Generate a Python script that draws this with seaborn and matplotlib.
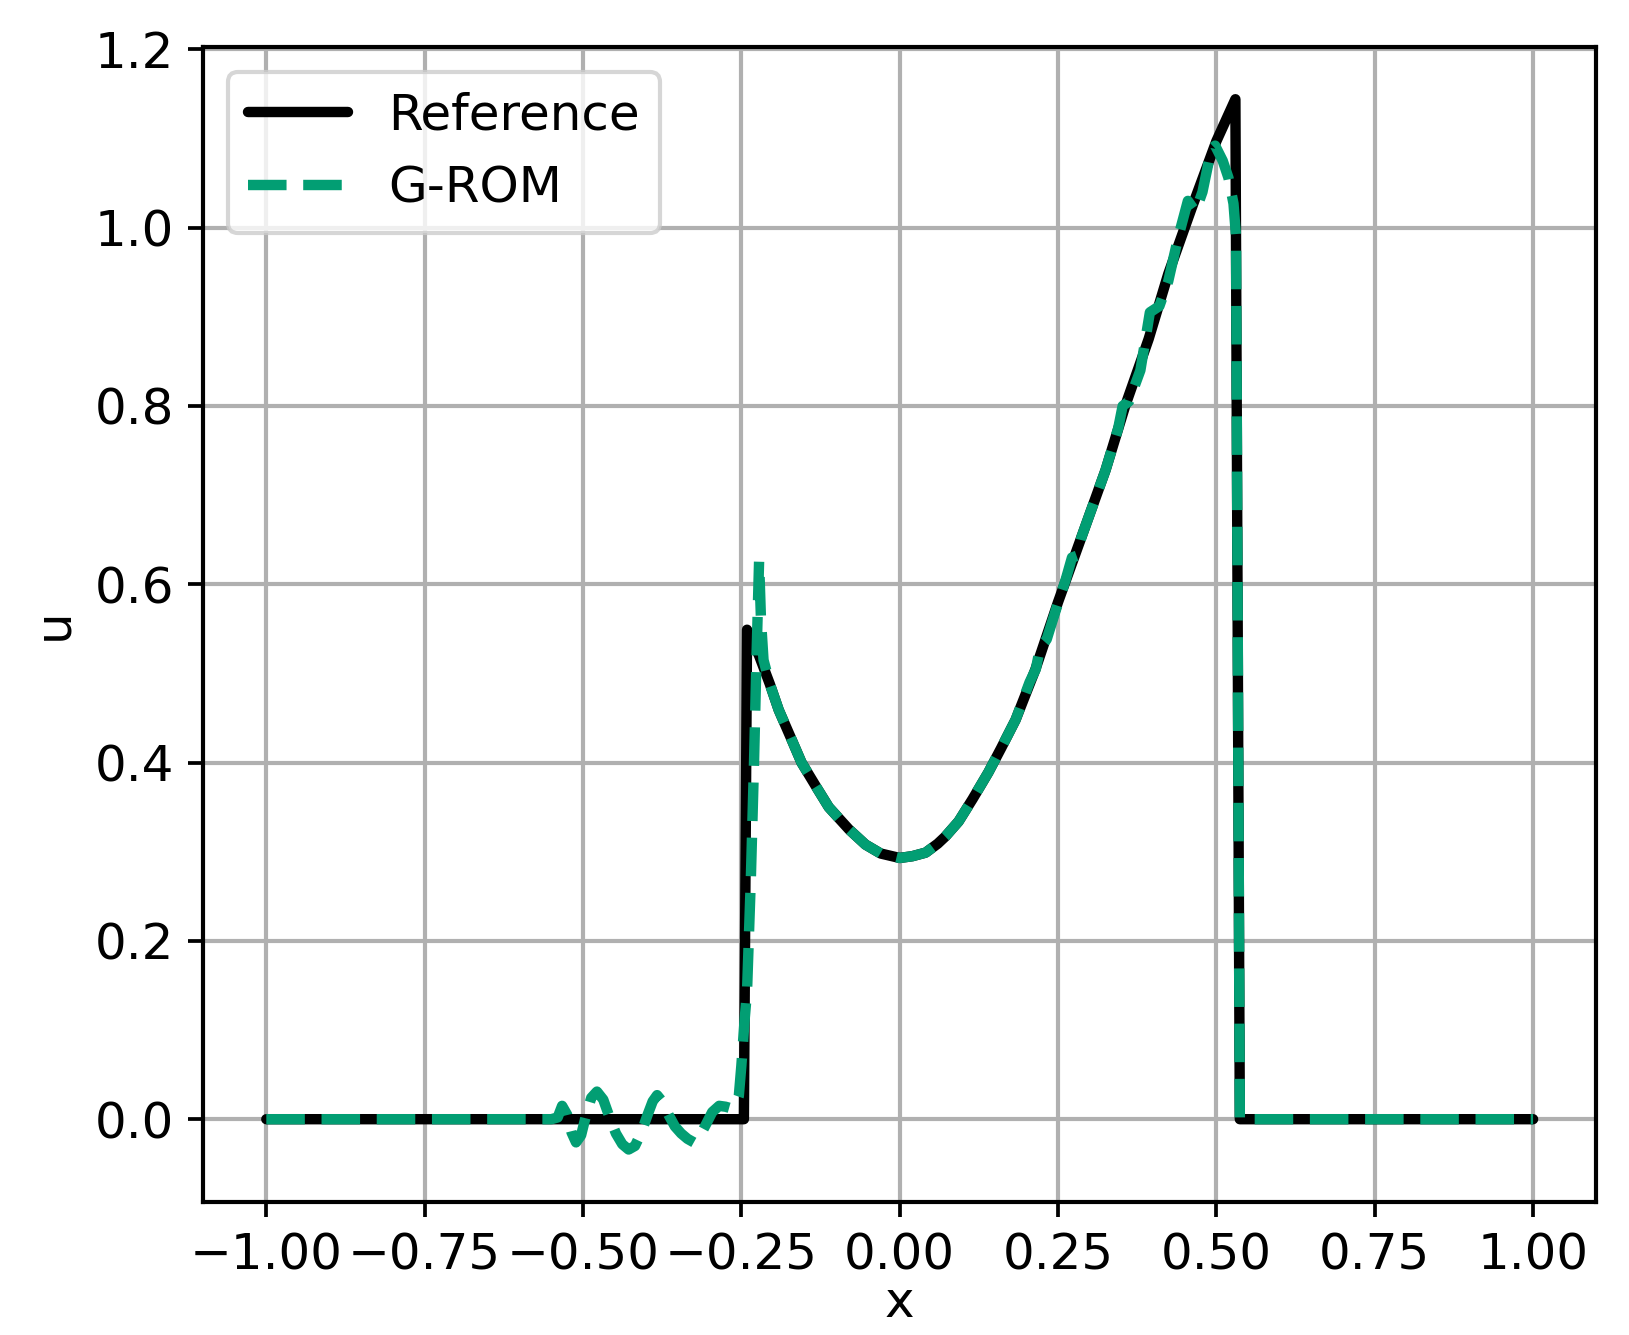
import numpy as np
import pandas as pd
import seaborn as sns
import matplotlib
matplotlib.use("Agg")
import matplotlib.pyplot as plt

# reference solution
x_ref = [-1.0, -0.246, -0.241, -0.222, -0.205, -0.191, -0.172, -0.155, -0.132, -0.112,
         -0.080, -0.054, -0.030, 0.0, 0.020, 0.041, 0.060, 0.072, 0.093, 0.115, 0.140,
         0.160, 0.183, 0.214, 0.250, 0.287, 0.325, 0.356, 0.393, 0.424, 0.461, 0.500,
         0.530, 0.537, 1.0]
y_ref = [0.0, 0.0, 0.549, 0.520, 0.488, 0.459, 0.428, 0.400, 0.373, 0.350,
         0.325, 0.308, 0.298, 0.293, 0.295, 0.299, 0.309, 0.317, 0.334, 0.359, 0.389,
         0.416, 0.448, 0.504, 0.580, 0.653, 0.728, 0.800, 0.875, 0.948, 1.022, 1.097,
         1.144, 0.0, 0.0]

# G-ROM approximation
x_grom = [-1.0, -0.550, -0.540, -0.533, -0.525, -0.518, -0.511, -0.503, -0.495, -0.487,
          -0.478, -0.468, -0.458, -0.448, -0.438, -0.428, -0.418, -0.408, -0.398, -0.390,
          -0.383, -0.375, -0.365, -0.355, -0.345, -0.335, -0.325, -0.315, -0.306, -0.296,
          -0.285, -0.275, -0.265, -0.258, -0.254, -0.250, -0.245, -0.241, -0.235, -0.230,
          -0.226, -0.222, -0.219, -0.215, -0.205, -0.191, -0.172, -0.155, -0.132, -0.112,
          -0.080, -0.054, -0.030, 0.0, 0.020, 0.041, 0.060, 0.072, 0.093, 0.115, 0.140,
          0.160, 0.183, 0.205, 0.215, 0.222, 0.232, 0.246, 0.262, 0.272, 0.280, 0.287,
          0.325, 0.345, 0.352, 0.362, 0.380, 0.395, 0.410, 0.424, 0.440, 0.455, 0.467,
          0.478, 0.492, 0.498, 0.510, 0.519, 0.527, 0.531, 0.534, 0.537, 1.0]
y_grom = [0.0, 0.0, 0.002, 0.015, 0.005, -0.015, -0.026, -0.018, 0.005, 0.024,
          0.031, 0.022, 0.002, -0.016, -0.028, -0.034, -0.030, -0.015, 0.005, 0.020,
          0.027, 0.020, 0.005, -0.008, -0.016, -0.022, -0.026, -0.018, -0.006, 0.008,
          0.015, 0.014, 0.012, 0.018, 0.026, 0.060, 0.110, 0.144, 0.270, 0.400,
          0.520, 0.626, 0.560, 0.515, 0.488, 0.459, 0.428, 0.400, 0.373, 0.350,
          0.325, 0.308, 0.298, 0.293, 0.295, 0.299, 0.309, 0.317, 0.334, 0.359, 0.389,
          0.416, 0.448, 0.490, 0.505, 0.530, 0.538, 0.570, 0.605, 0.630, 0.632, 0.653,
          0.728, 0.775, 0.800, 0.805, 0.840, 0.905, 0.912, 0.940, 0.990, 1.030, 1.018,
          1.040, 1.088, 1.092, 1.075, 1.056, 1.027, 0.990, 0.500, 0.0, 0.0]

sns.set_style("ticks", {"axes.grid": True, "grid.color": "#b0b0b0",
                        "axes.edgecolor": "black", "xtick.color": "black",
                        "ytick.color": "black", "axes.labelcolor": "black",
                        "text.color": "black"})
plt.rcParams['font.family'] = ['DejaVu Sans']
fs = 12

fig, ax = plt.subplots(figsize=(1629/300, 1335/300), dpi=300)
fig.subplots_adjust(left=0.1246, right=0.980, top=0.965, bottom=0.0996)

green = sns.color_palette("colorblind")[2]
sns.lineplot(x=x_ref, y=y_ref, ax=ax, color="black", lw=2.5, sort=False,
             estimator=None, label="Reference")
sns.lineplot(x=x_grom, y=y_grom, ax=ax, color=green, lw=2.5, ls="--", sort=False,
             estimator=None, label="G-ROM")

ax.grid(True, color="#b0b0b0", lw=1.0)
ax.set_xlabel("x", fontsize=fs, labelpad=0)
ax.set_ylabel("u", fontsize=fs)
ax.tick_params(labelsize=fs, width=0.9, length=3.5)
for s in ax.spines.values():
    s.set_linewidth(1.0)
ax.legend(loc="upper left", fontsize=fs, framealpha=0.8, edgecolor="#cccccc")

fig.savefig("out.png", dpi=300)
